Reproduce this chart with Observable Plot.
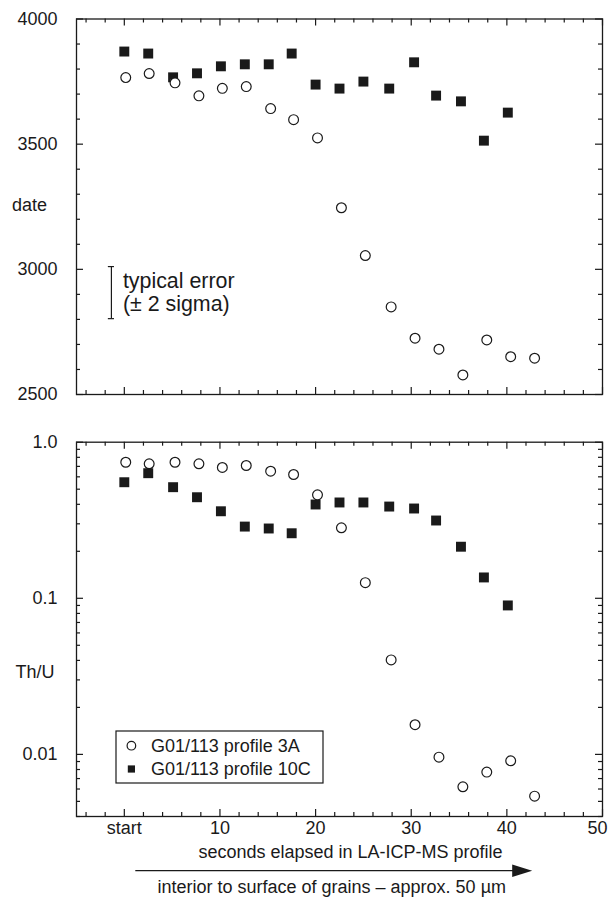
<!DOCTYPE html>
<html><head><meta charset="utf-8">
<script src="https://cdn.jsdelivr.net/npm/d3@7"></script>
<script src="https://cdn.jsdelivr.net/npm/@observablehq/plot@0.6"></script>
<style>
body{margin:0;background:#fff;font-family:"Liberation Sans",Arial,sans-serif;}
#wrap{position:relative;width:609px;height:897px;overflow:hidden;}
#wrap svg{display:block;}
</style></head><body><div id="wrap"></div>
<script>
// ---- data ----
const seriesNames = ["G01/113 profile 3A", "G01/113 profile 10C"];
const secondsSquares = [0, 2.5, 5.1, 7.6, 10.1, 12.6, 15.1, 17.5, 20, 22.5, 25, 27.7, 30.3, 32.6, 35.2, 37.6, 40.1];
const secondsCircles = [0.15, 2.6, 5.3, 7.8, 10.25, 12.75, 15.3, 17.7, 20.2, 22.7, 25.2, 27.9, 30.4, 32.9, 35.4, 37.9, 40.4, 42.9];
const dateSquares = [3870, 3862, 3767, 3783, 3811, 3819, 3819, 3862, 3738, 3722, 3750, 3722, 3827, 3694, 3671, 3514, 3626];
const dateCircles = [3766, 3782, 3745, 3693, 3723, 3730, 3642, 3598, 3525, 3246, 3055, 2850, 2725, 2681, 2578, 2718, 2651, 2645];
const thuSquares = [0.554, 0.633, 0.515, 0.444, 0.361, 0.288, 0.280, 0.261, 0.399, 0.411, 0.411, 0.387, 0.376, 0.315, 0.214, 0.136, 0.090];
const thuCircles = [0.744, 0.727, 0.744, 0.727, 0.689, 0.709, 0.652, 0.621, 0.460, 0.283, 0.126, 0.0403, 0.0155, 0.0096, 0.0062, 0.0077, 0.0091, 0.0054];

// typical error annotation
const errorX = [-1.35];
const errorRange = [2803, 3011];
const errorText = ["typical error", "(\u00b1 2 sigma)"];
const errorTextX = [-0.15, -0.15];
const errorTextY = [2951, 2862];

// ticks and labels
const xMajorTicks = [0, 10, 20, 30, 40, 50];
const xTickLabels = ["start", "10", "20", "30", "40", "50"];
const xMinorTicks = [-4, -2, 2, 4, 6, 8, 12, 14, 16, 18, 22, 24, 26, 28, 32, 34, 36, 38, 42, 44, 46, 48];
const dateMajorTicks = [2500, 3000, 3500, 4000];
const dateTickLabels = ["2500", "3000", "3500", "4000"];
const dateMinorTicks = [2600, 2700, 2800, 2900, 3100, 3200, 3300, 3400, 3600, 3700, 3800, 3900];
const thuMajorTicks = [0.01, 0.1, 1];
const thuTickLabels = ["0.01", "0.1", "1.0"];
const thuMinorTicks = [0.004, 0.005, 0.006, 0.007, 0.008, 0.009, 0.02, 0.03, 0.04, 0.05, 0.06, 0.07, 0.08, 0.09, 0.2, 0.3, 0.4, 0.5, 0.6, 0.7, 0.8, 0.9];
const xLabel = "seconds elapsed in LA-ICP-MS profile";
const captionText = "interior to surface of grains \u2013 approx. 50 \u00b5m";
const arrowRange = [1.2, 42.7];

const squaresTop = secondsSquares.map((x, i) => ({x, y: dateSquares[i]}));
const circlesTop = secondsCircles.map((x, i) => ({x, y: dateCircles[i]}));
const squaresBot = secondsSquares.map((x, i) => ({x, y: thuSquares[i]}));
const circlesBot = secondsCircles.map((x, i) => ({x, y: thuCircles[i]}));

const INK = "#1a1a1a";
const FONT = "'Liberation Sans', Arial, sans-serif";
const style = {fontFamily: FONT, fontSize: "18px", color: INK, background: "white", overflow: "visible"};

const W = 609, ML = 76, MR = 7;
const FW = W - ML - MR;

// inward-pointing ticks on all four sides of the frame, drawn as inset rules
function frameTicks(yMaj, yMin, FH) {
  const o = {stroke: INK, strokeWidth: 1.2};
  const MAJ = 7, MIN = 4;
  return [
    Plot.ruleX(xMajorTicks, {x: d => d, insetTop: FH - MAJ, ...o}),
    Plot.ruleX(xMinorTicks, {x: d => d, insetTop: FH - MIN, ...o}),
    Plot.ruleX(xMajorTicks, {x: d => d, insetBottom: FH - MAJ, ...o}),
    Plot.ruleX(xMinorTicks, {x: d => d, insetBottom: FH - MIN, ...o}),
    Plot.ruleY(yMaj, {y: d => d, insetRight: FW - MAJ, ...o}),
    Plot.ruleY(yMin, {y: d => d, insetRight: FW - MIN, ...o}),
    Plot.ruleY(yMaj, {y: d => d, insetLeft: FW - MAJ, ...o}),
    Plot.ruleY(yMin, {y: d => d, insetLeft: FW - MIN, ...o}),
    Plot.frame({stroke: INK, strokeWidth: 1.3})
  ];
}

const topH = 410, topMT = 18.5, topMB = 16;
const topPlot = Plot.plot({
  width: W, height: topH,
  marginLeft: ML, marginRight: MR, marginTop: topMT, marginBottom: topMB,
  x: {domain: [-5, 50], axis: null},
  y: {domain: [2500, 4000], axis: null},
  style,
  marks: [
    ...frameTicks(dateMajorTicks, dateMinorTicks, topH - topMT - topMB),
    Plot.axisY({anchor: "left", ticks: dateMajorTicks, tickSize: 0, tickPadding: 19, tickFormat: d => dateTickLabels[dateMajorTicks.indexOf(d)], label: null, fill: INK}),
    Plot.text(["date"], {y: [3258], frameAnchor: "left", dx: -64.5, textAnchor: "start", fill: INK}),
    Plot.ruleX(errorX, {x: d => d, y1: errorRange[0], y2: errorRange[1], stroke: INK, strokeWidth: 1.2}),
    Plot.ruleY(errorRange, {y: d => d, x1: errorX[0] - 0.32, x2: errorX[0] + 0.32, stroke: INK, strokeWidth: 1.2}),
    Plot.text(errorText, {x: (d, i) => errorTextX[i], y: (d, i) => errorTextY[i], text: d => d, textAnchor: "start", fontSize: 21.4, fill: INK}),
    Plot.dot(squaresTop, {x: "x", y: "y", symbol: "square", r: 5.6, fill: INK, stroke: "none"}),
    Plot.dot(circlesTop, {x: "x", y: "y", symbol: "circle", r: 4.9, fill: "white", stroke: INK, strokeWidth: 1.2})
  ]
});

const lastTick = xMajorTicks.slice(-1);
const botH = 450, botMT = 31.7, botMB = 44;
const botPlot = Plot.plot({
  width: W, height: botH,
  marginLeft: ML, marginRight: MR, marginTop: botMT, marginBottom: botMB,
  x: {domain: [-5, 50]},
  y: {type: "log", domain: [0.004, 1]},
  style,
  marks: [
    ...frameTicks(thuMajorTicks, thuMinorTicks, botH - botMT - botMB),
    Plot.axisY({anchor: "left", ticks: thuMajorTicks, tickSize: 0, tickPadding: 19, tickFormat: d => thuTickLabels[thuMajorTicks.indexOf(d)], label: null, fill: INK}),
    Plot.axisX({anchor: "bottom", ticks: xMajorTicks.slice(0, -1), tickSize: 0, tickPadding: 5, tickFormat: d => xTickLabels[xMajorTicks.indexOf(d)], label: null, fill: INK}),
    Plot.text(lastTick, {x: d => d, text: d => xTickLabels[xMajorTicks.indexOf(d)], frameAnchor: "bottom", dy: 5, dx: 5, lineAnchor: "top", textAnchor: "end", fill: INK}),
    Plot.text([xLabel], {frameAnchor: "bottom", dy: 36, dx: 11, lineAnchor: "middle", fill: INK}),
    Plot.text(["Th/U"], {y: [0.0336], frameAnchor: "left", dx: -61, textAnchor: "start", fill: INK}),
    Plot.dot(squaresBot, {x: "x", y: "y", symbol: "square", r: 5.6, fill: INK, stroke: "none"}),
    Plot.dot(circlesBot, {x: "x", y: "y", symbol: "circle", r: 4.9, fill: "white", stroke: INK, strokeWidth: 1.2})
  ]
});

const wrap = document.getElementById("wrap");
wrap.appendChild(topPlot);
wrap.appendChild(botPlot);

// caption with arrow below the bottom panel
const xs = botPlot.scale("x");
const ax1 = xs.apply(arrowRange[0]), ax2 = xs.apply(arrowRange[1]);
const cap = d3.create("svg").attr("width", W).attr("height", 37)
  .style("font-family", FONT).style("font-size", "18px");
cap.append("line").attr("x1", ax1).attr("x2", ax2 - 18).attr("y1", 10.7).attr("y2", 10.7).attr("stroke", INK).attr("stroke-width", 1.3);
cap.append("path").attr("d", `M${ax2 - 20},4.5L${ax2},10.7L${ax2 - 20},16.9Z`).attr("fill", INK);
cap.append("text").attr("x", (ax1 + ax2) / 2 - 2).attr("y", 26.5).attr("text-anchor", "middle").attr("dominant-baseline", "central").attr("fill", INK).text(captionText);
wrap.appendChild(cap.node());

// legend inside the bottom panel
const leg = d3.create("svg").attr("width", 209).attr("height", 54)
  .style("position", "absolute").style("left", "115px").style("top", "730px")
  .style("font-family", FONT).style("font-size", "18px");
leg.append("rect").attr("x", 1).attr("y", 1).attr("width", 207).attr("height", 52).attr("fill", "white").attr("stroke", INK).attr("stroke-width", 1.2);
leg.append("circle").attr("cx", 16.4).attr("cy", 15.7).attr("r", 4.3).attr("fill", "white").attr("stroke", INK).attr("stroke-width", 1.2);
leg.append("rect").attr("x", 16.4 - 3.6).attr("y", 39 - 3.6).attr("width", 7.2).attr("height", 7.2).attr("fill", INK);
leg.selectAll("text.t").data(seriesNames).join("text").attr("x", 36).attr("y", (d, i) => i ? 39 : 15.7)
  .attr("dominant-baseline", "central").attr("fill", INK).text(d => d);
wrap.appendChild(leg.node());
</script></body></html>
